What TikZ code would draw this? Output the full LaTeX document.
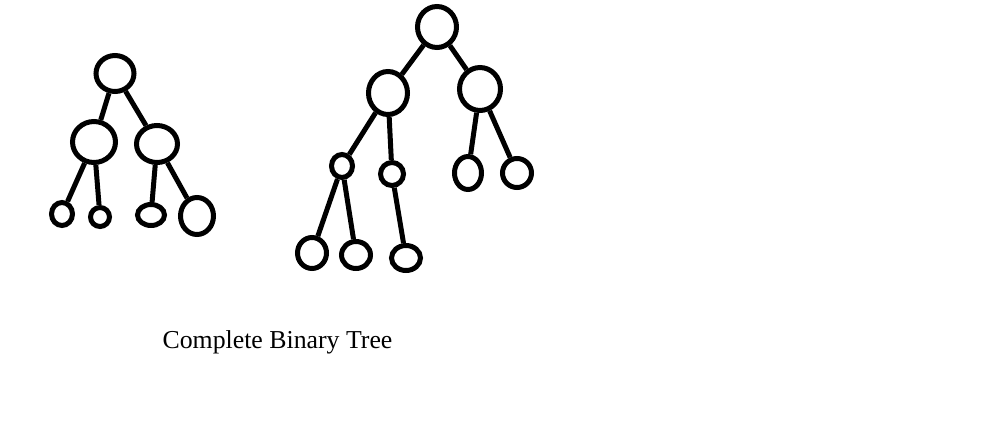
\documentclass[tikz,border=0pt]{standalone}
\usepackage{fontspec}
\setmainfont{Liberation Serif}
\usepackage{tikz}
\usetikzlibrary{shapes.geometric}
\newcommand\W{5pt}

\begin{document}
\begin{tikzpicture}[x=1pt,y=-1pt,line width=\W,
                    sz/.style 2 args={minimum width=#1pt,minimum height=#2pt}]

  \tikzstyle{every vertex}=[ellipse,draw,inner sep=0pt]

  \useasboundingbox (0,0) rectangle (983,447);

  % small tree
  \node[every vertex,sz={38}{36}] (R1) at (115,73.5) {};
  \node[every vertex,sz={43}{41}] (A1) at (94,142)  {};
  \node[every vertex,sz={41}{37}] (B1) at (157,144) {};
  \node[every vertex,sz={21}{23}] (C1) at (62,214)  {};
  \node[every vertex,sz={19}{19}] (D1) at (100,217) {};
  \node[every vertex,sz={27}{21}] (E1) at (151,215) {};
  \node[every vertex,sz={33}{37}] (F1) at (197,216) {};

  % big tree
  \node[every vertex,sz={39}{41}] (R2) at (437,27)  {};
  \node[every vertex,sz={39}{43}] (A2) at (388,93)  {};
  \node[every vertex,sz={41}{43}] (B2) at (480,89)  {};
  \node[every vertex,sz={21}{23}] (C2) at (342,166) {};
  \node[every vertex,sz={23}{23}] (D2) at (392,174) {};
  \node[every vertex,sz={27}{33}] (E2) at (468,173) {};
  \node[every vertex,sz={29}{29}] (F2) at (517,173) {};
  \node[every vertex,sz={29}{31}] (G2) at (312,253) {};
  \node[every vertex,sz={29}{27}] (H2) at (356,255) {};
  \node[every vertex,sz={29}{25}] (I2) at (406,258) {};

  \node[anchor=base,font=\fontsize{25.8}{30}\selectfont] (CAP) at (277.5,348)
    {Complete Binary Tree};

\path
(R1) edge (A1)
(R1) edge (B1)
(A1) edge (C1)
(A1) edge (D1)
(B1) edge (E1)
(B1) edge (F1)
(R2) edge (A2)
(R2) edge (B2)
(A2) edge (C2)
(A2) edge (D2)
(B2) edge (E2)
(B2) edge (F2)
(C2) edge (G2)
(C2) edge (H2)
(D2) edge (I2)
;
\end{tikzpicture}
\end{document}
